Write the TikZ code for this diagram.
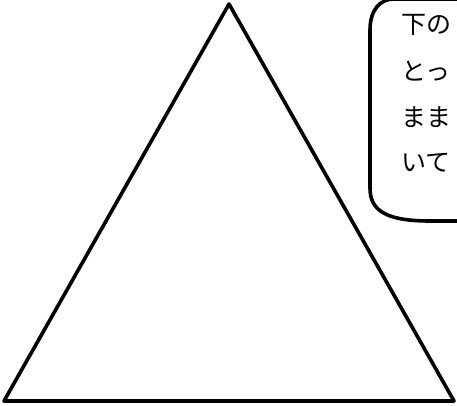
\documentclass[tikz,border=0pt]{standalone}
\usepackage{fontspec}
\newfontfamily\jp{Noto Sans CJK JP}
\tikzset{
  shape line/.style={draw=black, line width=3.6pt, line join=round},
  jtext/.style={font=\jp\fontsize{25}{25}\selectfont, anchor=west, inner sep=0pt}
}
\begin{document}
\begin{tikzpicture}[x=1pt,y=1pt]
\useasboundingbox (0,0) rectangle (457,405);
\clip (0,0) rectangle (457,405);
% triangle
\coordinate (apex) at (229,401);
\coordinate (bl) at (4,4);
\coordinate (br) at (454,4);
\draw[shape line] (apex) -- (br) -- (bl) -- cycle;
% callout box (partly outside)
\coordinate (c1) at (470,184);
\coordinate (c2) at (430,184);
\coordinate (c3) at (370,217);
\coordinate (c4) at (370,375);
\coordinate (c5) at (394,406);
\coordinate (c6) at (470,406);
\draw[shape line] (c1) -- (c2) .. controls (385,184) and (370,195) .. (c3) -- (c4) .. controls (370,395) and (380,406) .. (c5) -- (c6);
% text
\node[jtext] (t1) at (401,380) {下の};
\node[jtext] (t2) at (401,334) {とっ};
\node[jtext] (t3) at (401,288) {まま};
\node[jtext] (t4) at (401,242) {いて};
\end{tikzpicture}
\end{document}
